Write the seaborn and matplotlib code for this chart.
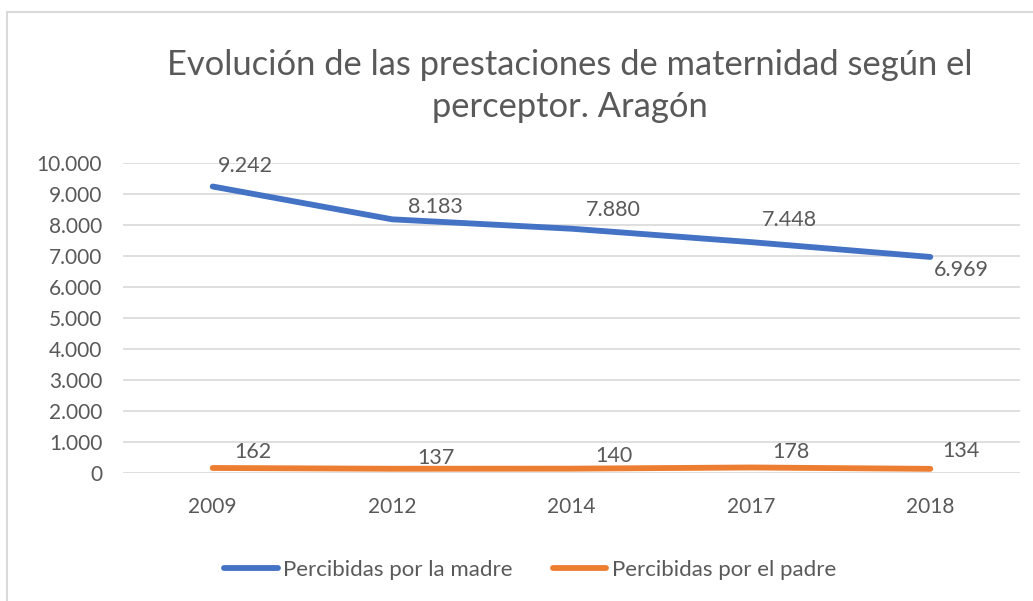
import matplotlib
matplotlib.use("Agg")
import matplotlib.pyplot as plt
from matplotlib.patches import Rectangle
from matplotlib.ticker import FuncFormatter
import seaborn as sns
import pandas as pd

years = ["2009", "2012", "2014", "2017", "2018"]
madre = [9242, 8183, 7880, 7448, 6969]
padre = [162, 137, 140, 178, 134]
series_names = ["Percibidas por la madre", "Percibidas por el padre"]
title = "Evolución de las prestaciones de maternidad según el\nperceptor. Aragón"

colors = {series_names[0]: "#4472C4", series_names[1]: "#ED7D31"}
text_color = "#595959"
grid_color = "#D9D9D9"

sns.set_theme(style="white")
plt.rcParams["font.family"] = ["Lato", "DejaVu Sans"]

df = pd.DataFrame({
    "pos": list(range(len(years))) * 2,
    "valor": madre + padre,
    "serie": [series_names[0]] * len(years) + [series_names[1]] * len(years),
})

fig = plt.figure(figsize=(10.33, 6.01), dpi=100)
W, H = 1033, 601
ax = fig.add_axes([123 / W, 1 - 473 / H, (1020 - 123) / W, (473 - 163) / H])

sns.lineplot(data=df, x="pos", y="valor", hue="serie", palette=colors,
             linewidth=4.2, ax=ax, legend=False, solid_capstyle="round")

ax.set_xlim(-0.5, len(years) - 0.5)
ax.set_ylim(0, 10000)
ax.set_yticks(range(0, 10001, 1000))
ax.yaxis.set_major_formatter(FuncFormatter(lambda v, _: f"{int(v):,}".replace(",", ".")))
ax.set_xticks(range(len(years)))
ax.set_xticklabels(years)
ax.set_xlabel("")
ax.set_ylabel("")
ax.grid(axis="y", color=grid_color, linewidth=1.2)
ax.set_axisbelow(True)
for s in ax.spines.values():
    s.set_visible(False)
ax.tick_params(axis="y", length=0, pad=15, labelsize=15, labelcolor=text_color)
ax.tick_params(axis="x", length=0, pad=17, labelsize=15, labelcolor=text_color)

def fmt(v):
    return f"{v:,}".replace(",", ".")

# data labels, offsets in pixels from each point (positive = up)
madre_off = [(33, 20), (43, 12), (42, 19), (39, 22), (31, -13)]
padre_off = [(40, 16), (44, 11), (42, 13), (40, 15), (31, 18)]
px = 0.72  # points per pixel at 100 dpi
for i, v in enumerate(madre):
    ax.annotate(fmt(v), (i, v), xytext=(madre_off[i][0] * px, madre_off[i][1] * px),
                textcoords="offset points", ha="center", va="center",
                fontsize=15.5, color=text_color)
for i, v in enumerate(padre):
    ax.annotate(fmt(v), (i, v), xytext=(padre_off[i][0] * px, padre_off[i][1] * px),
                textcoords="offset points", ha="center", va="center",
                fontsize=15.5, color=text_color)

fig.text(570 / W, 1 - 86 / H, title, ha="center", va="center", fontsize=24.8,
         color=text_color, linespacing=1.35)

handles = [plt.Line2D([], [], color=colors[n], linewidth=4.2, solid_capstyle="round")
           for n in series_names]
fig.legend(handles, series_names, loc="center", bbox_to_anchor=(530 / W, 1 - 570 / H),
           ncol=2, frameon=False, fontsize=16, labelcolor=text_color,
           handlelength=2.4, handletextpad=0.25, columnspacing=1.8)

fig.patches.append(Rectangle((7 / W, -0.1), 1.2, (1 - 12 / H) + 0.1,
                             transform=fig.transFigure, fill=False,
                             edgecolor="#D9D9D9", linewidth=1.5))

fig.savefig("out.png", dpi=100, facecolor="white")
